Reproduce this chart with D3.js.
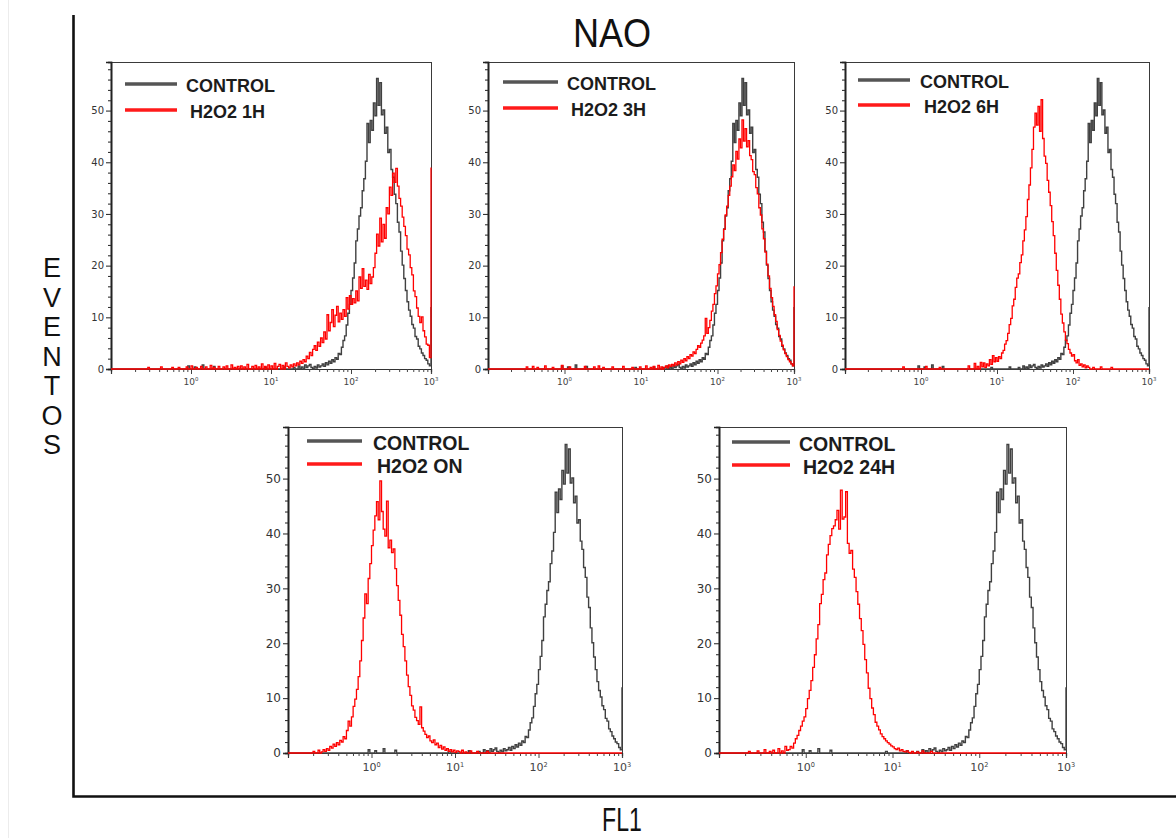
<!DOCTYPE html>
<html>
<head>
<meta charset="utf-8">
<script src="https://cdn.jsdelivr.net/npm/d3@7"></script>
<style>
  html, body { margin: 0; padding: 0; background: #fff; }
  svg { display: block; }
</style>
</head>
<body>
<script>
// ---- Channel layout: 200 log-spaced channels from 10^-1 to 10^3 ----
const BIN_COUNT = 200;
const LOG_MIN = -1;
const LOG_MAX = 3;
const BIN_LOG_WIDTH = (LOG_MAX - LOG_MIN) / BIN_COUNT;

// ---- Tick labels ----
const xTickValues = [1, 10, 100, 1000];
const xTickExponents = ["0", "1", "2", "3"];
const yTickValues = [0, 10, 20, 30, 40, 50];
const Y_MAX = 59.4;

// ---- Legend / panel labels ----
const controlLabel = "CONTROL";
const treatmentLabels = ["H2O2 1H", "H2O2 3H", "H2O2 6H", "H2O2 ON", "H2O2 24H"];

// ---- Event counts per channel (first channel index, then counts) ----
// Untreated control, shared by every panel
const controlStart = 40;
const controlCounts = [
  0,0,0,0,0,0,0,0,0.6,0,
  0,0,0.4,0,0,0,0,0.8,0,0,
  0,0,0,0,0.5,0,0,0,0,0,
  0,0,0,0,0,0,0,0,0,0,
  0,0,0,0,0,0,0,0,0,0,
  0,0,0,0,0,0,0.3,0,0,0,
  0,0,0,0,0,0,0,0,0.4,0,
  0,0,0,0,0.3,0,0,0.6,0,0.4,
  0,0.8,0.3,0.6,0.9,0.3,0,0.5,0.2,0.8,
  0.4,0.6,1.0,0.5,1.2,0.8,1.5,1.1,1.8,1.4,
  2.2,1.9,3.0,2.8,4.2,5.5,6.4,8.5,10.8,12.5,
  15.2,17.6,20.5,24.8,27.1,29.6,31.2,34.5,36.8,40.2,
  47.5,43.8,48.1,46.2,51.5,49.0,56.2,51.0,55.4,49.2,
  50.1,45.6,46.8,41.9,42.5,38.6,37.1,33.8,32.0,28.4,
  26.5,22.8,20.1,17.5,15.2,13.0,11.4,10.2,8.6,7.9,
  6.3,5.8,4.4,3.9,3.1,2.6,2.0,1.7,1.0,0.6
];
const controlOverflow = 12;

// H2O2 1 hour
const h1Start = 20;
const h1Counts = [
  0,0,0,0.3,0,0,0,0,0,0,
  0,0.4,0,0,0,0,0,0,0.3,0,
  0,0,0.3,0,0,0,0,0.4,0,0,
  0.6,0,0,0.3,0,0,0.5,0,0,0.4,
  0,0,0.7,0,0.3,0,0,0.5,0,0,
  0.4,0,0.6,0,0,0.8,0,0.3,0,0.5,
  0,0.6,0,0.4,0,0.9,0,0,0.5,0,
  0.7,0,0.4,0,1.0,0,0.5,0,0.8,0,
  0.6,0,1.1,0,0.5,0.9,0,0.7,0,1.2,
  0.5,0.2,0.8,0.4,1.0,0.6,1.2,0.8,1.5,1.1,
  1.8,1.4,2.5,2.0,3.2,2.6,3.8,4.5,3.6,5.2,
  4.4,6.0,5.1,7.2,5.8,10.5,7.4,9.0,11.5,8.2,
  10.4,12.1,9.1,10.8,9.6,11.5,10.2,13.8,11.6,14.2,
  12.5,13.6,12.8,15.1,13.2,17.8,15.6,19.4,16.0,17.2,
  15.4,18.3,16.5,17.8,19.6,22.4,26.1,23.8,29.2,24.6,
  28.0,25.3,31.2,30.0,35.2,33.6,37.9,36.1,38.8,35.4,
  33.0,31.5,29.4,27.6,25.8,23.2,22.1,19.6,18.2,15.1,
  14.0,11.8,10.2,9.0,10.1,7.4,6.2,4.8,4.6,2.2
];
const h1Overflow = 39;

// H2O2 3 hours
const h3Start = 20;
const h3Counts = [
  0,0,0,0,0,0.4,0,0,0,0.5,
  0,0,0.3,0,0,0,0,0.6,0,0,
  0,0,0.3,0,0,0,0,0,0.7,0,
  0,0,0,0.4,0,0,0,0,0,0,
  0,0,0,0.5,0,0,0,0,0,0.4,
  0,0,0.6,0,0,0.3,0,0,0,0,
  0,0.4,0,0,0,0,0,0,0.5,0,
  0,0,0,0,0.3,0,0,0,0,0.4,
  0,0,0,0.6,0,0,0.3,0,0.5,0,
  0,0.7,0,0.4,0,0.3,0.6,0.2,0.8,0.5,
  0.9,0.6,1.2,0.8,1.4,1.0,1.7,1.3,2.0,1.6,
  2.4,2.0,2.8,2.5,3.3,3.0,3.8,4.5,4.2,5.0,
  5.6,6.4,9.8,6.9,8.0,9.4,11.2,12.5,14.6,16.1,
  18.4,20.2,22.5,25.1,27.0,29.8,31.5,33.6,35.4,37.2,
  39.5,38.4,42.1,40.6,44.5,42.8,48.2,44.1,46.5,43.0,
  44.2,41.3,40.5,38.2,37.6,35.1,33.9,31.2,29.8,27.1,
  25.2,22.6,20.3,18.0,15.6,13.8,12.1,10.5,9.2,7.6,
  6.5,5.4,4.6,3.7,3.0,2.4,1.8,1.4,1.0,0.6
];
const h3Overflow = 16;

// H2O2 6 hours
const h6Start = 30;
const h6Counts = [
  0,0,0,0,0,0,0,0,0.4,0,
  0,0,0,0,0,0,0,0,0,0,
  0,0,0,0.5,0,0,0,0,0,0,
  0,0,0.3,0,0,0,0,0,0,0,
  0,0,0,0,0,0,0,0,0,0,
  0,0.6,0,0,0,1.1,0,0.5,0,1.3,
  0.4,1.2,0.3,1.0,0.6,1.8,0.9,2.6,1.4,2.2,
  1.5,2.4,2.0,3.1,3.6,4.8,5.5,6.9,8.6,9.8,
  12.2,13.5,15.8,17.6,18.4,20.6,22.1,24.8,26.9,29.5,
  32.8,35.6,38.9,42.5,46.8,49.5,47.2,50.8,46.0,52.1,
  44.6,41.2,39.8,36.5,34.2,31.6,28.5,25.8,22.4,19.1,
  16.2,13.5,10.6,8.9,7.2,5.6,4.9,3.8,3.1,2.5,
  2.8,1.6,1.2,1.8,0.7,1.0,0.4,0.8,0.2,0.6,
  0.3,0,0,0.3,0,0,0,0,0.4,0,
  0,0,0,0,0,0.3,0,0,0,0
];
const h6Overflow = 0;

// H2O2 overnight
const hOnStart = 10;
const hOnCounts = [
  0,0,0,0,0,0.3,0,0,0.5,0,
  0.2,0.6,0.3,0.8,0.5,1.2,0.9,1.6,1.2,1.9,
  1.5,2.3,2.0,3.0,2.6,4.1,5.8,4.9,6.6,8.5,
  9.8,11.6,13.9,16.8,20.5,24.6,29.0,27.2,31.8,34.5,
  37.8,40.6,43.2,45.8,42.5,49.6,44.0,40.8,39.5,45.9,
  37.4,38.8,36.5,37.2,33.6,30.5,27.8,25.1,21.6,19.4,
  16.8,14.2,12.1,10.5,8.6,7.8,6.5,5.9,5.2,8.4,
  4.6,4.0,3.4,2.8,3.1,2.2,1.9,2.4,1.5,1.8,
  1.0,1.4,0.7,1.1,0.5,0.8,0.3,0.6,0.2,0.5,
  0.1,0.4,0.3,0,0.5,0,0.2,0,0,0.4,
  0,0,0,0.3,0,0,0,0,0,0.3
];
const hOnOverflow = 0;

// H2O2 24 hours
const h24Start = 10;
const h24Counts = [
  0,0,0,0,0,0,0,0.3,0,0,
  0,0,0.4,0,0,0,0.6,0,0,0.3,
  0,0.5,0,0,0.8,0,0.4,0,1.2,0.5,
  0.6,1.2,0.9,1.8,2.6,3.2,4.1,4.9,5.8,6.6,
  8.1,9.9,11.4,13.2,15.6,17.9,20.8,23.4,27.2,28.9,
  31.6,32.8,36.1,38.0,39.6,40.9,41.4,42.5,44.2,40.8,
  47.9,42.6,43.0,47.6,38.2,36.4,36.9,33.5,32.0,29.4,
  27.1,24.5,22.3,19.8,17.0,14.6,11.8,9.9,8.2,7.0,
  5.6,4.9,4.2,3.5,3.0,2.6,2.2,1.9,1.6,1.3,
  1.1,0.8,0.6,0.9,0.4,0.6,0.3,0.2,0.4,0.1,
  0,0.3,0,0,0.2,0,0,0.4,0,0,
  0,0,0.3,0,0,0,0,0,0,0
];
const h24Overflow = 0;

// ---- Panel geometry (legend: line start, line end, text x, row offsets) ----
const panels = [
  { left: 111, top: 62,  right: 431,  bottom: 369, start: h1Start,  counts: h1Counts,  overflow: h1Overflow,  label: treatmentLabels[0], leg: [14, 66, 75], legendY: [22, 48], font: 18, tick: 9 },
  { left: 488, top: 62,  right: 794,  bottom: 369, start: h3Start,  counts: h3Counts,  overflow: h3Overflow,  label: treatmentLabels[1], leg: [15, 70, 79], legendY: [20, 46], font: 18, tick: 9 },
  { left: 845, top: 62,  right: 1149, bottom: 369, start: h6Start,  counts: h6Counts,  overflow: h6Overflow,  label: treatmentLabels[2], leg: [13, 65, 75], legendY: [18, 43], font: 18, tick: 9 },
  { left: 288, top: 427, right: 622,  bottom: 753, start: hOnStart, counts: hOnCounts, overflow: hOnOverflow, label: treatmentLabels[3], leg: [19, 74, 85], legendY: [14, 37], font: 19.5, tick: 11 },
  { left: 719, top: 427, right: 1066, bottom: 753, start: h24Start, counts: h24Counts, overflow: h24Overflow, label: treatmentLabels[4], leg: [13, 71, 80], legendY: [15, 38], font: 19.5, tick: 11 }
];

const W = 1176, H = 838;
const svg = d3.select("body").append("svg")
  .attr("width", W).attr("height", H)
  .attr("viewBox", `0 0 ${W} ${H}`);

// faint page edge on the far left
svg.append("line")
  .attr("x1", 8.5).attr("x2", 8.5).attr("y1", 0).attr("y2", H)
  .attr("stroke", "#ececec").attr("stroke-width", 1);

// Turn a channel histogram into step points on the log axis
function histogramPoints(start, counts, overflow) {
  const pts = [];
  for (let i = 0; i < BIN_COUNT; i++) {
    const k = i - start;
    const v = (k >= 0 && k < counts.length) ? counts[k] : 0;
    pts.push([Math.pow(10, LOG_MIN + i * BIN_LOG_WIDTH), v]);
  }
  const last = pts[pts.length - 1][1];
  pts.push([Math.pow(10, LOG_MAX), last]);
  if (overflow) pts.push([Math.pow(10, LOG_MAX), overflow]);
  return pts;
}

const minorX = [];
for (let d = -1; d < 3; d++) {
  for (let k = 2; k <= 9; k++) minorX.push(k * Math.pow(10, d));
}
const minorY = d3.range(2, 59, 2).filter(v => v % 10 !== 0);

panels.forEach(p => {
  const g = svg.append("g");
  const x = d3.scaleLog().domain([Math.pow(10, LOG_MIN), Math.pow(10, LOG_MAX)]).range([p.left, p.right]);
  const y = d3.scaleLinear().domain([0, Y_MAX]).range([p.bottom, p.top]);

  // frame
  g.append("rect")
    .attr("x", p.left + 0.5).attr("y", p.top + 0.5)
    .attr("width", p.right - p.left).attr("height", p.bottom - p.top)
    .attr("fill", "none").attr("stroke", "#3a3a3a").attr("stroke-width", 1);

  // y axis: labelled majors and short minors
  const yMajor = g.append("g").attr("transform", `translate(${p.left},0)`)
    .call(d3.axisLeft(y).tickValues(yTickValues).tickSize(5).tickPadding(2).tickFormat(d3.format("d")));
  const yMinor = g.append("g").attr("transform", `translate(${p.left},0)`)
    .call(d3.axisLeft(y).tickValues(minorY).tickSize(3).tickFormat(""));
  [yMajor, yMinor].forEach(a => {
    a.select(".domain").attr("stroke", "#222").attr("stroke-width", 1.6);
    a.selectAll(".tick line").attr("stroke", "#333").attr("stroke-width", 1.1);
  });
  yMajor.selectAll(".tick text")
    .attr("font-family", "'DejaVu Sans', sans-serif")
    .attr("font-size", p.tick + 1)
    .attr("fill", "#333");

  // x axis: decade ticks and log minors
  const xMajor = g.append("g").attr("transform", `translate(0,${p.bottom})`)
    .call(d3.axisBottom(x).tickValues(xTickValues).tickSize(5).tickFormat(""));
  const xMinor = g.append("g").attr("transform", `translate(0,${p.bottom})`)
    .call(d3.axisBottom(x).tickValues(minorX).tickSize(3).tickFormat(""));
  [xMajor, xMinor].forEach(a => {
    a.select(".domain").attr("stroke", "#333").attr("stroke-width", 1.2);
    a.selectAll(".tick line").attr("stroke", "#444").attr("stroke-width", 1);
  });
  xTickValues.forEach((v, i) => {
    const t = g.append("text")
      .attr("x", x(v)).attr("y", p.bottom + p.tick + 7)
      .attr("text-anchor", "middle")
      .attr("font-family", "'DejaVu Sans', sans-serif")
      .attr("font-size", p.tick)
      .attr("fill", "#444");
    t.append("tspan").text("10");
    t.append("tspan").attr("dy", -p.tick * 0.4).attr("font-size", p.tick * 0.6).text(xTickExponents[i]);
  });

  // histograms: control below, treatment on top
  const line = d3.line()
    .x(d => x(d[0]))
    .y(d => y(d[1]))
    .curve(d3.curveStepAfter);

  g.append("path")
    .attr("d", line(histogramPoints(controlStart, controlCounts, controlOverflow)))
    .attr("fill", "none").attr("stroke", "#404040").attr("stroke-width", 1.4)
    .attr("stroke-linejoin", "miter");

  g.append("path")
    .attr("d", line(histogramPoints(p.start, p.counts, p.overflow)))
    .attr("fill", "none").attr("stroke", "#ff0000").attr("stroke-width", 1.3)
    .attr("stroke-linejoin", "miter");

  // legend
  const rows = [
    { label: controlLabel, color: "#555", dy: p.legendY[0], pad: 0 },
    { label: p.label, color: "#ff1a1a", dy: p.legendY[1], pad: 4 }
  ];
  rows.forEach(r => {
    g.append("line")
      .attr("x1", p.left + p.leg[0]).attr("x2", p.left + p.leg[1])
      .attr("y1", p.top + r.dy).attr("y2", p.top + r.dy)
      .attr("stroke", r.color).attr("stroke-width", 3.5);
    g.append("text")
      .attr("x", p.left + p.leg[2] + r.pad)
      .attr("y", p.top + r.dy + 2 + p.font * 0.36)
      .attr("font-family", "'Liberation Sans', Arial, sans-serif")
      .attr("font-weight", 700)
      .attr("font-size", p.font)
      .attr("fill", "#1c1c1c")
      .text(r.label);
  });
});

// outer axes of the figure
svg.append("path")
  .attr("d", "M73.5,15 V796.5 H1176")
  .attr("fill", "none").attr("stroke", "#111").attr("stroke-width", 2.6);

// figure titles (condensed)
svg.append("text")
  .attr("transform", "translate(612,47) scale(0.88,1)")
  .attr("text-anchor", "middle")
  .attr("font-family", "'Liberation Sans', sans-serif")
  .attr("font-size", 41)
  .attr("fill", "#111")
  .text("NAO");

svg.append("text")
  .attr("transform", "translate(622,831) scale(0.7,1)")
  .attr("text-anchor", "middle")
  .attr("font-family", "'Liberation Sans', sans-serif")
  .attr("font-size", 33)
  .attr("fill", "#111")
  .text("FL1");

const yTitle = "EVENTOS".split("");
yTitle.forEach((ch, i) => {
  svg.append("text")
    .attr("x", 52).attr("y", 277 + i * 29.5)
    .attr("text-anchor", "middle")
    .attr("font-family", "'Liberation Sans', sans-serif")
    .attr("font-size", 27)
    .attr("fill", "#111")
    .text(ch);
});
</script>
</body>
</html>
